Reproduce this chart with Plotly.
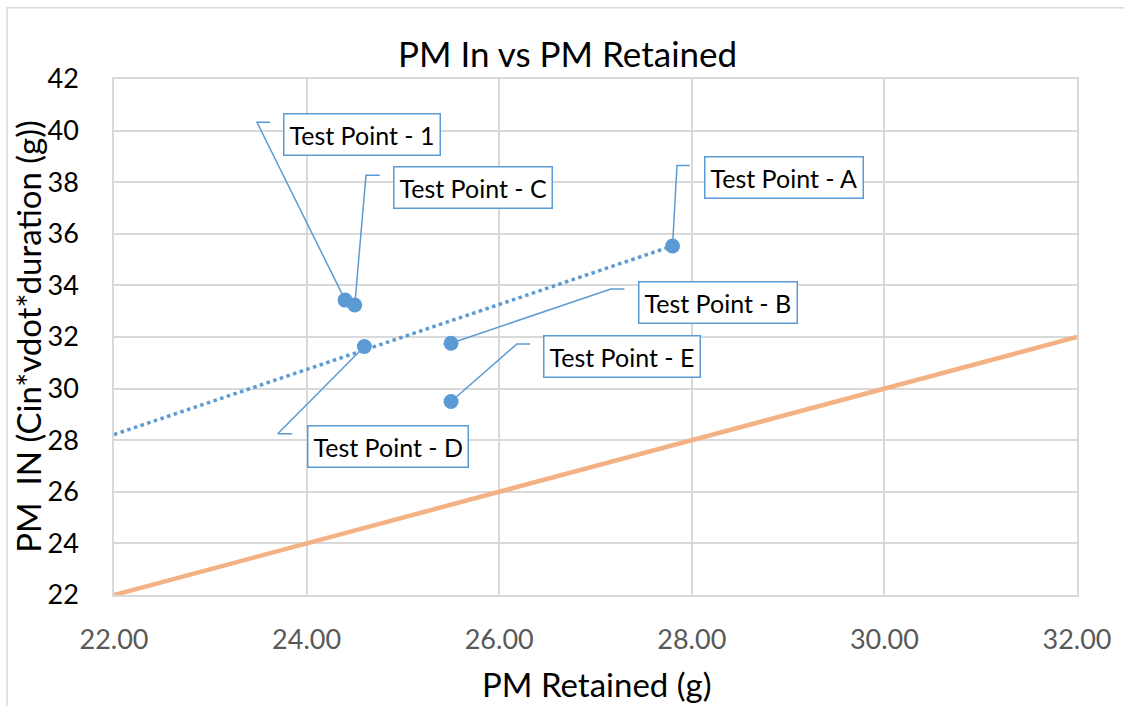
import plotly.graph_objects as go

# Measured test points
labels = ["Test Point - 1", "Test Point - C", "Test Point - A",
          "Test Point - D", "Test Point - B", "Test Point - E"]
pm_retained = [24.40, 24.50, 27.80, 24.60, 25.50, 25.50]
pm_in = [33.43, 33.24, 35.53, 31.63, 31.76, 29.50]

# Dotted trend line endpoints
trend_x = [22.0, 27.80]
trend_y = [28.22, 35.53]

# Reference line PM_IN = PM Retained
ref_x = [22.0, 32.0]
ref_y = [22.0, 32.0]

x_ticks = [22, 24, 26, 28, 30, 32]
y_ticks = [22, 24, 26, 28, 30, 32, 34, 36, 38, 40, 42]

# Callout placement: box centre and leader-line elbow (data units)
box_x = [24.58, 25.73, 28.96, 24.85, 28.27, 27.28]
box_y = [39.83, 37.80, 38.17, 27.76, 33.33, 31.25]
elbow_x = [23.485, 24.617, 27.846, 23.70, 27.16, 26.185]
elbow_y = [40.32, 38.27, 38.65, 28.25, 33.86, 31.73]
tail_x = [23.62, 24.76, 27.98, 23.85, 27.30, 26.32]

BLUE = "#5b9bd5"
ORANGE = "#f4b183"
GRID = "#d9d9d9"
FONT = "Lato, 'Open Sans', sans-serif"

fig = go.Figure()

fig.add_trace(go.Scatter(x=ref_x, y=ref_y, mode="lines",
                         line=dict(color=ORANGE, width=4.5),
                         hoverinfo="skip", showlegend=False))

fig.add_trace(go.Scatter(x=trend_x, y=trend_y, mode="lines",
                         line=dict(color=BLUE, width=3.5, dash="dot"),
                         hoverinfo="skip", showlegend=False))

# Leader lines from each point to its callout
lx, ly = [], []
for px, py, ex, ey, tx in zip(pm_retained, pm_in, elbow_x, elbow_y, tail_x):
    lx += [px, ex, tx, None]
    ly += [py, ey, ey, None]
fig.add_trace(go.Scatter(x=lx, y=ly, mode="lines",
                         line=dict(color=BLUE, width=1.5),
                         hoverinfo="skip", showlegend=False))

fig.add_trace(go.Scatter(x=pm_retained, y=pm_in, mode="markers",
                         marker=dict(color=BLUE, size=15),
                         text=labels, showlegend=False))

for text, bx, by in zip(labels, box_x, box_y):
    fig.add_annotation(x=bx, y=by, xref="x", yref="y", text=text,
                       showarrow=False, font=dict(family=FONT, size=25, color="#000000"),
                       bgcolor="white", bordercolor=BLUE, borderwidth=1.5,
                       borderpad=5, xanchor="center", yanchor="middle")

# Axis titles
fig.add_annotation(x=0.5016, y=-0.173, xref="paper", yref="paper",
                   text="PM Retained (g)", showarrow=False,
                   xanchor="center", yanchor="middle",
                   font=dict(family=FONT, size=33, color="#000000"))
fig.add_annotation(x=-0.0895, y=0.502, xref="paper", yref="paper",
                   text="PM\u00a0\u00a0IN (Cin*vdot*duration (g))",
                   showarrow=False, textangle=-90,
                   xanchor="center", yanchor="middle",
                   font=dict(family=FONT, size=33, color="#000000"))

# Outer chart frame
fig.add_shape(type="rect", xref="paper", yref="paper",
              x0=-0.111, y0=-0.3, x1=1.2, y1=1.138,
              line=dict(color=GRID, width=1.5), layer="below")

fig.update_layout(
    width=1124, height=706,
    margin=dict(l=114, r=47, t=78.5, b=110.5),
    paper_bgcolor="white", plot_bgcolor="white",
    font=dict(family=FONT, color="#000000"),
    title=dict(text="PM In vs PM Retained", x=0.505, xref="container",
               xanchor="center", y=0.922, yanchor="middle",
               font=dict(family=FONT, size=35, color="#000000")),
    xaxis=dict(range=[22, 32], tickvals=x_ticks,
               ticktext=[f"{v:.2f}" for v in x_ticks],
               showgrid=True, gridcolor=GRID, gridwidth=1.5,
               showline=True, linecolor=GRID, linewidth=1.5, mirror=True,
               zeroline=False, ticks="", ticklabelstandoff=20,
               tickfont=dict(family=FONT, size=27, color="#595959")),
    yaxis=dict(range=[22, 42], tickvals=y_ticks,
               showgrid=True, gridcolor=GRID, gridwidth=1.5,
               showline=True, linecolor=GRID, linewidth=1.5, mirror=True,
               zeroline=False, ticks="", ticklabelstandoff=28,
               tickfont=dict(family=FONT, size=27, color="#000000")),
)

fig.write_html("out.html")
